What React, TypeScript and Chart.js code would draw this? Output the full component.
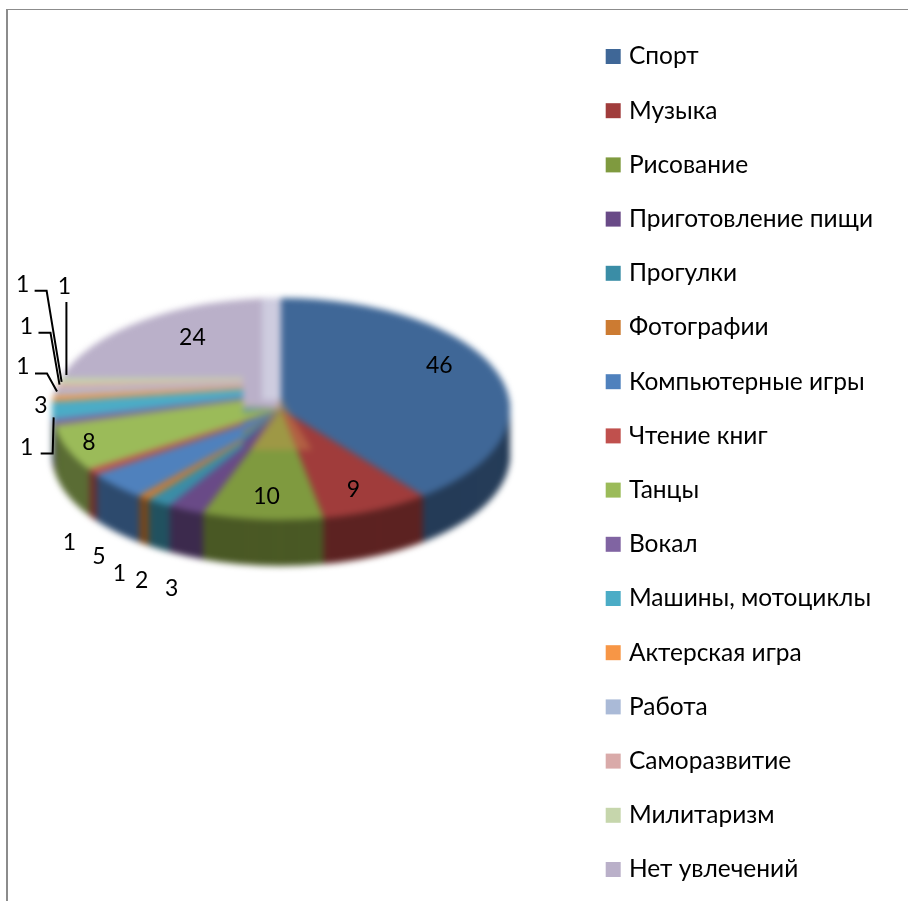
import React, { useEffect, useRef } from "react";
import { Chart, registerables } from "chart.js";

Chart.register(...registerables);

const categories = ["Спорт", "Музыка", "Рисование", "Приготовление пищи", "Прогулки", "Фотографии", "Компьютерные игры", "Чтение книг", "Танцы", "Вокал", "Машины, мотоциклы", "Актерская игра", "Работа", "Саморазвитие", "Милитаризм", "Нет увлечений"];
const values = [46, 9, 10, 3, 2, 1, 5, 1, 8, 1, 3, 1, 1, 1, 1, 24];
const colors = ["#3F6797", "#A03C3B", "#7F9A3F", "#694A87", "#3A8DA6", "#CC7B32", "#4F81BD", "#C0504D", "#9BBB59", "#8064A2", "#4BACC6", "#F79646", "#AABAD7", "#D9AAA9", "#C6D6AC", "#BAB0C9"];

const FONT = "Lato, 'Open Sans', sans-serif";
const LEGEND_SIZE = 24.5;
const PIE = { cx: 281, cy: 409, rx: 229, ry: 111, depth: 46, blur: 3.2 };
// Left-hand slices fan out from a vertical segment instead of one point, as in the source picture.
const FAN = { x: 243, yTop: 378, yBottom: 455, fromDeg: 200, toDeg: 286 };
const labelNudges: number[][] = [[-58, -7], [-23, -20], [4, -23], [-14, 79], [-17, 78], [-24, 76], [-17, 71], [-23, 71], [22, -6], [-27, 25], [-11, -5], [-30, -32], [-28, -66], [-34, -102], [5, -94], [49, 17]];
const leaderNudges: Record<number, number[][]> = {
  9: [[0, -5], [-1, 31], [-13, 31]],
  11: [[4, -7], [-6, -25], [-18, -25]],
  12: [[5, -8], [-4, -60], [-16, -60]],
  13: [[5, -5], [-10, -96], [-22, -96]],
  14: [[7, -6], [7, -79]],
};

function shade(hex: string, f: number) {
  const n = parseInt(hex.slice(1), 16);
  return `rgb(${((n >> 16) & 255) * f},${((n >> 8) & 255) * f},${(n & 255) * f})`;
}

const pie3d = {
  id: "pie3d",
  beforeDatasetsDraw(chart: any) {
    const ctx = chart.ctx;
    const arcs = chart.getDatasetMeta(0).data;
    const { x, y, outerRadius } = arcs[0].getProps(["x", "y", "outerRadius"], true);
    const off = document.createElement("canvas");
    off.width = chart.width;
    off.height = chart.height;
    const o = off.getContext("2d")!;
    const place = (dy: number) => {
      o.setTransform(1, 0, 0, 1, 0, 0);
      o.translate(PIE.cx, PIE.cy + dy);
      o.scale(PIE.rx / outerRadius, PIE.ry / outerRadius);
      o.translate(-x, -y);
    };
    for (let d = PIE.depth; d > 0; d--) {
      place(d);
      arcs.forEach((arc: any, i: number) => {
        const p = arc.getProps(["startAngle", "endAngle"], true);
        o.fillStyle = shade(colors[i], 0.58);
        o.beginPath();
        o.moveTo(x, y);
        o.arc(x, y, outerRadius, p.startAngle, p.endAngle);
        o.closePath();
        o.fill();
      });
    }
    place(0);
    arcs.forEach((arc: any) => arc.draw(o));

    o.setTransform(1, 0, 0, 1, 0, 0);
    const fanY = (angle: number) => {
      const deg = (angle * 180) / Math.PI + 90;
      const t = (deg - FAN.fromDeg) / (FAN.toDeg - FAN.fromDeg);
      return FAN.yBottom + (FAN.yTop - FAN.yBottom) * t;
    };
    arcs.forEach((arc: any, i: number) => {
      const p = arc.getProps(["startAngle", "endAngle"], true);
      const startDeg = (p.startAngle * 180) / Math.PI + 90;
      if (startDeg < FAN.fromDeg - 0.5 || startDeg > FAN.toDeg - 0.5) return;
      o.fillStyle = colors[i];
      o.beginPath();
      o.moveTo(FAN.x, fanY(p.startAngle));
      o.ellipse(PIE.cx, PIE.cy, PIE.rx, PIE.ry, 0, p.startAngle, p.endAngle);
      o.lineTo(FAN.x, fanY(p.endAngle));
      o.closePath();
      o.fill();
    });
    // pale vertical strip left of the first slice, soft orange where the slices meet
    o.save();
    o.beginPath();
    o.ellipse(PIE.cx, PIE.cy, PIE.rx, PIE.ry, 0, 0, Math.PI * 2);
    o.clip();
    o.fillStyle = "rgba(225,232,245,0.5)";
    o.fillRect(262, 290, 19, 110);
    o.fillStyle = "rgba(205,150,80,0.4)";
    o.beginPath();
    o.moveTo(281, 398);
    o.lineTo(312, 450);
    o.lineTo(250, 450);
    o.closePath();
    o.fill();
    o.restore();

    ctx.save();
    ctx.filter = `blur(${PIE.blur}px)`;
    ctx.drawImage(off, 0, 0);
    ctx.restore();

    ctx.save();
    ctx.fillStyle = "#000";
    ctx.strokeStyle = "#000";
    ctx.lineWidth = 2;
    ctx.font = `23px ${FONT}`;
    ctx.textAlign = "center";
    ctx.textBaseline = "middle";
    arcs.forEach((arc: any, i: number) => {
      const p = arc.getProps(["startAngle", "endAngle"], true);
      const mid = (p.startAngle + p.endAngle) / 2;
      const rimX = PIE.cx + PIE.rx * Math.cos(mid);
      const rimY = PIE.cy + PIE.ry * Math.sin(mid);
      ctx.fillText(String(values[i]), rimX + labelNudges[i][0], rimY + labelNudges[i][1]);
      const leader = leaderNudges[i];
      if (leader) {
        ctx.beginPath();
        leader.forEach(([dx, dy], k) => {
          if (k === 0) ctx.moveTo(rimX + dx, rimY + dy);
          else ctx.lineTo(rimX + dx, rimY + dy);
        });
        ctx.stroke();
      }
    });
    ctx.restore();
    return false;
  },
};

export default function App() {
  const ref = useRef<HTMLCanvasElement>(null);
  useEffect(() => {
    const chart = new Chart(ref.current!, {
      type: "pie",
      data: {
        labels: categories,
        datasets: [{ data: values, backgroundColor: colors, borderWidth: 0 }],
      },
      options: {
        responsive: false,
        animation: false,
        layout: { padding: { top: 1, bottom: -24, right: 25 } },
        plugins: {
          tooltip: { enabled: false },
          legend: {
            position: "right",
            labels: {
              boxWidth: 7,
              boxHeight: 7,
              padding: 54.2 - LEGEND_SIZE,
              color: "#000",
              font: { family: FONT, size: LEGEND_SIZE },
              generateLabels: () =>
                categories.map((text, i) => ({
                  text,
                  index: i,
                  datasetIndex: 0,
                  fillStyle: colors[i],
                  strokeStyle: colors[i],
                  lineWidth: 8,
                  fontColor: "#000",
                })),
            },
          },
        },
      },
      plugins: [pie3d],
    } as any);
    return () => chart.destroy();
  }, []);
  return (
    <div style={{ position: "absolute", left: 0, top: 0, width: 908, height: 901, background: "#fff", overflow: "hidden" }}>
      <div style={{ position: "absolute", left: 6, top: 9, right: 0, height: 1, background: "#8c8c8c" }} />
      <div style={{ position: "absolute", left: 6, top: 9, bottom: 0, width: 2, background: "#8c8c8c" }} />
      <canvas ref={ref} width={908} height={901} style={{ position: "absolute", left: 0, top: 0 }} />
    </div>
  );
}
